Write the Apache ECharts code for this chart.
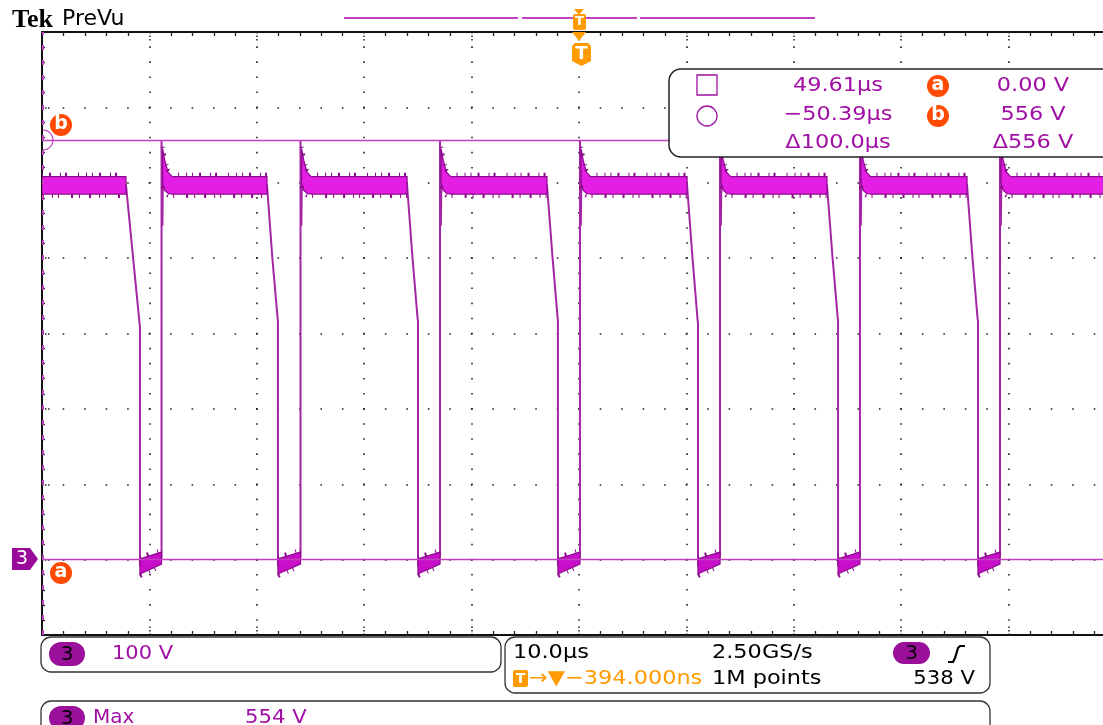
<!DOCTYPE html>
<html><head><meta charset="utf-8">
<script src="https://cdn.jsdelivr.net/npm/echarts@6/dist/echarts.min.js"></script>
<style>html,body{margin:0;padding:0;background:#fff;}#c{width:1103px;height:725px;}</style>
</head><body><div id="c"></div>
<script>
// ---------------- data (time in µs relative to screen centre, volts) ----------------
const timeRange = [-50, 50];          // 10 div x 10.0 µs/div
const voltRange = [-100, 700];        // 8 div x 100 V/div
const fallStartUs = [-42.18, -29.05, -16.01, -2.98, 10.06, 23.09, 36.13];
const fallMidUs   = [-41.55, -28.55, -15.50, -2.47, 10.57, 23.60, 36.64];
const fallMidV    = [405, 400, 400, 402, 400, 402, 400];
const dropUs      = [-40.88, -28.03, -14.99, -1.96, 11.08, 24.12, 37.15];
const riseUs      = [-38.87, -25.93, -12.94, 0.09, 13.13, 26.16, 39.20];
const kneeV       = [314, 321, 320, 322, 318, 322, 320];
const plateauV = 497;
const bandV = [485, 508];             // noise band low / high on the plateau
const lowTraceV = [-8, 3];            // trace level at start / end of the low interval
const lowStartV = [-19, 1];           // low band lo/hi at drop
const lowEndV = [-6, 10];             // low band lo/hi at rise
const spikeV = 556;
const ringDtUs = [0.08, 0.15, 0.3, 0.6, 1.0];
const ringV    = [443, 535, 520, 505, 497];
const ringEnvDtUs = [0.1, 0.3, 0.6, 1.0];
const ringHiV  = [545, 530, 514, 508];
const ringLoV  = [498, 490, 486, 485];
const cursorLevelsV = [0, 556];       // cursor a, cursor b
const cursorTimeUs = -49.93;          // circle cursor at left edge

// ---------------- build trace ----------------
const trace = [[timeRange[0], plateauV]];
for (let i = 0; i < riseUs.length; i++) {
  trace.push([fallStartUs[i], plateauV]);
  trace.push([fallMidUs[i], fallMidV[i]]);
  trace.push([dropUs[i] - 0.04, kneeV[i]]);
  trace.push([dropUs[i], kneeV[i] - 4]);
  trace.push([dropUs[i], lowTraceV[0]]);
  trace.push([riseUs[i], lowTraceV[1]]);
  trace.push([riseUs[i], spikeV]);
  for (let j = 0; j < ringDtUs.length; j++) trace.push([riseUs[i] + ringDtUs[j], ringV[j]]);
}
trace.push([timeRange[1], plateauV]);

const polys = [];
for (let p = 0; p <= riseUs.length; p++) {
  const s = p === 0 ? timeRange[0] : riseUs[p - 1];
  const e = p === riseUs.length ? timeRange[1] : fallStartUs[p];
  let up, lo;
  if (p === 0) { up = [[s, bandV[1]]]; lo = [[s, bandV[0]]]; }
  else {
    up = ringEnvDtUs.map((d, j) => [s + d, ringHiV[j]]);
    lo = ringEnvDtUs.map((d, j) => [s + d, ringLoV[j]]);
  }
  up.push([e, bandV[1]]); lo.push([e, bandV[0]]);
  polys.push({ up, lo, kind: 'high' });
}
for (let i = 0; i < riseUs.length; i++) {
  polys.push({ up: [[dropUs[i], lowStartV[1]], [riseUs[i], lowEndV[1]]],
               lo: [[dropUs[i], lowStartV[0]], [riseUs[i], lowEndV[0]]], kind: 'low' });
}

// ---------------- styles ----------------
const PURPLE = '#a010a4', MAG = '#c040c0', ORANGE = '#ff9a00', RED = '#ff4a00';
const FONT = '20px "DejaVu Sans"';
function T(text, x, y, o) {
  o = o || {};
  const al = o.align || 'left';
  return { type: 'text', x: x, y: y, z: o.z || 103, scaleX: o.sx == null ? 1.12 : o.sx,
    style: { text: text, fill: o.color || '#000', font: o.font || FONT,
      align: al, verticalAlign: 'middle', textAlign: al, textVerticalAlign: 'middle' } };
}
function box(x, y, w, h) {
  return { type: 'rect', z: 99, shape: { x, y, width: w, height: h, r: 10 },
    style: { fill: '#fff', stroke: '#333', lineWidth: 1.3 } };
}
function pill(x, y, w, h, label) {
  return [{ type: 'rect', z: 100, shape: { x, y, width: w, height: h, r: h / 2 }, style: { fill: '#9a109a' } },
          T(label, x + w / 2, y + h / 2 + 1, { align: 'center', sx: 1 })];
}
function badge(cx, cy, label) {
  return [{ type: 'circle', z: 100, shape: { cx, cy, r: 11 }, style: { fill: RED } },
          T(label, cx, cy - 1, { align: 'center', color: '#fff', font: 'bold 19px "DejaVu Sans"', sx: 1 })];
}

const graphics = [].concat(
  [T('Tek', 12, 20, { font: 'bold 26px "Liberation Serif"', sx: 1 }),
   T('PreVu', 62, 19, { font: '22px "DejaVu Sans"', sx: 1 })],
  [[344, 518], [522, 637], [640, 815]].map(s => ({ type: 'line', z: 100,
    shape: { x1: s[0], y1: 18, x2: s[1], y2: 18 }, style: { stroke: MAG, lineWidth: 2 } })),
  [{ type: 'polygon', z: 101, shape: { points: [[574, 9], [584, 9], [579, 15]] }, style: { fill: ORANGE } },
   { type: 'rect', z: 101, shape: { x: 573, y: 14, width: 13, height: 16, r: 2 }, style: { fill: ORANGE } },
   T('T', 579.5, 22, { align: 'center', color: '#fff', font: 'bold 13px "DejaVu Sans"', sx: 1 }),
   { type: 'polygon', z: 101, shape: { points: [[572, 32], [586, 32], [579, 41]] }, style: { fill: ORANGE } },
   { type: 'polygon', z: 101, shape: { points: [[572, 46], [575, 43], [588, 43], [591, 46], [591, 61], [581.5, 66], [572, 61]] }, style: { fill: ORANGE } },
   T('T', 581.5, 54, { align: 'center', color: '#fff', font: 'bold 18px "DejaVu Sans"', sx: 1 })],
  // cursor readout
  [{ type: 'rect', z: 99, shape: { x: 669, y: 69, width: 470, height: 88, r: 12 }, style: { fill: '#fff', stroke: '#222', lineWidth: 1.5 } },
   { type: 'rect', z: 100, shape: { x: 697, y: 75, width: 20, height: 20 }, style: { fill: null, stroke: PURPLE, lineWidth: 1.3 } },
   { type: 'circle', z: 100, shape: { cx: 707, cy: 116, r: 10 }, style: { fill: null, stroke: PURPLE, lineWidth: 1.3 } },
   T('49.61µs', 838, 86, { align: 'center', color: PURPLE }),
   T('−50.39µs', 838, 115, { align: 'center', color: PURPLE }),
   T('Δ100.0µs', 838, 143, { align: 'center', color: PURPLE }),
   T('0.00 V', 1033, 86, { align: 'center', color: PURPLE }),
   T('556 V', 1033, 115, { align: 'center', color: PURPLE }),
   T('Δ556 V', 1033, 143, { align: 'center', color: PURPLE })],
  badge(938, 86, 'a'), badge(938, 116, 'b'),
  badge(61, 125, 'b'), badge(61, 573, 'a'),
  [{ type: 'arc', z: 100, shape: { cx: 43, cy: 140, r: 10, startAngle: -Math.PI / 2, endAngle: Math.PI / 2 }, style: { fill: null, stroke: MAG, lineWidth: 1.2 } },
   { type: 'polygon', z: 100, shape: { points: [[12, 548], [30, 548], [38, 559], [30, 570], [12, 570]] }, style: { fill: '#9a0a9a' } },
   T('3', 22, 559, { align: 'center', color: '#fff', font: '19px "DejaVu Sans"', sx: 1 })],
  // bottom boxes
  [box(41, 637, 460, 35)], pill(49, 642, 36, 24, '3'), [T('100 V', 112, 654, { color: PURPLE, sx: 1.05 })],
  [box(505, 637, 485, 56), T('10.0µs', 513, 653), T('2.50GS/s', 712, 653)],
  pill(893, 642, 37, 22, '3'),
  [{ type: 'polyline', z: 100, shape: { points: [[948, 662], [953, 662], [955, 658], [958, 648], [960, 646], [965, 646]] }, style: { stroke: '#000', lineWidth: 2.2, fill: null } },
   { type: 'rect', z: 100, shape: { x: 513, y: 670, width: 15, height: 17, r: 2 }, style: { fill: ORANGE } },
   T('T', 520.5, 679, { align: 'center', color: '#fff', font: 'bold 14px "DejaVu Sans"', sx: 1 }),
   T('→▼−394.000ns', 529, 679, { color: ORANGE }),
   T('1M points', 712, 679),
   T('538 V', 975, 679, { align: 'right', sx: 1.06 })],
  [box(41, 701, 949, 40)], pill(49, 706, 36, 24, '3'),
  [T('Max', 93, 718, { color: PURPLE, sx: 1 }), T('554 V', 245, 718, { color: PURPLE, sx: 1.06 })]
);

const chart = echarts.init(document.getElementById('c'));
const xAxisBase = {
  type: 'value', min: timeRange[0], max: timeRange[1], interval: 10,
  axisLine: { show: true, onZero: false, lineStyle: { color: '#111', width: 2 } },
  axisTick: { show: true, inside: true, length: 10, lineStyle: { color: '#222', width: 1.5, type: [1.5, 2] } },
  minorTick: { show: true, splitNumber: 5, length: 4, lineStyle: { color: '#222', width: 1.3 } },
  axisLabel: { show: false }
};
chart.setOption({
  animation: false,
  backgroundColor: '#fff',
  grid: { left: 42, top: 32, width: 1074, height: 603, containLabel: false, outerBoundsMode: 'none' },
  xAxis: [
    Object.assign({}, xAxisBase, { position: 'bottom',
      splitLine: { show: true, lineStyle: { color: '#222', width: 1.6, type: [1.6, 13.475], dashOffset: 0.8 } } }),
    Object.assign({}, xAxisBase, { position: 'top', splitLine: { show: false } })
  ],
  yAxis: {
    type: 'value', min: voltRange[0], max: voltRange[1], interval: 100,
    axisLine: { show: true, onZero: false, lineStyle: { color: '#111', width: 2 } },
    axisTick: { show: true, inside: true, length: 8, lineStyle: { color: '#222', width: 1.5, type: [1.5, 1.5] } },
    minorTick: { show: true, splitNumber: 5, length: 3, lineStyle: { color: '#222', width: 1.3 } },
    axisLabel: { show: false },
    splitLine: { show: true, lineStyle: { color: '#222', width: 1.6, type: [1.6, 19.88], dashOffset: 0.8 } }
  },
  graphic: { elements: graphics },
  series: [
    { type: 'line', data: [], z: 1, silent: true,
      markLine: { symbol: 'none', silent: true, label: { show: false }, animation: false,
        data: cursorLevelsV.map(v => ({ yAxis: v, lineStyle: { color: MAG, width: 1.3, type: 'solid' } }))
          .concat([{ xAxis: cursorTimeUs, lineStyle: { color: MAG, width: 2, type: [5, 10] } }]) } },
    { type: 'line', data: trace, z: 2, showSymbol: false, symbol: 'none', clip: true,
      lineStyle: { color: '#a526a5', width: 2 } },
    { type: 'custom', z: 3, clip: true,
      data: polys.map(p => [p.up[0][0], p.up[0][1]]),
      renderItem: function (params, api) {
        const p = polys[params.dataIndex];
        const up = p.up.map(q => api.coord(q));
        const lo = p.lo.map(q => api.coord(q));
        const high = p.kind === 'high';
        const upOut = up.map(q => [q[0], q[1] - 2]);
        const loOut = lo.map(q => [q[0], q[1] + 2]);
        return { type: 'group', children: [
          { type: 'polygon', shape: { points: up.concat(lo.slice().reverse()) },
            style: { fill: high ? '#e41ee4' : '#c80ec8', stroke: '#8c0a8c', lineWidth: 1.2 } },
          { type: 'polyline', shape: { points: upOut },
            style: { fill: null, stroke: '#8c0a8c', lineWidth: 4, lineDash: [1, 6, 2, 9, 1, 4, 2, 11, 1, 7, 1, 5] } },
          { type: 'polyline', shape: { points: loOut },
            style: { fill: null, stroke: '#8c0a8c', lineWidth: 4, lineDash: [2, 8, 1, 5, 1, 12, 2, 6, 1, 9] } }
        ] };
      } }
  ]
});
</script>
</body></html>
